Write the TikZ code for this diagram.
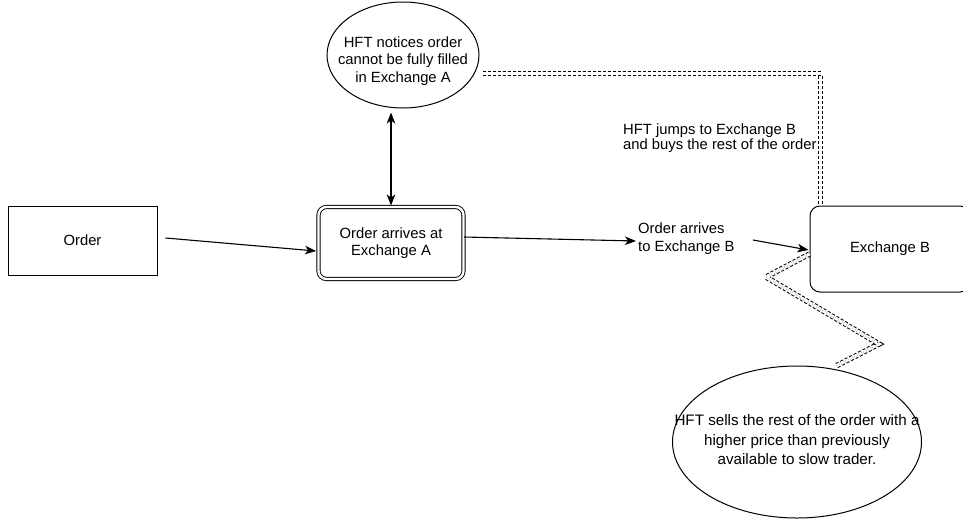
\documentclass[tikz,border=0pt]{standalone}
\usepackage{fontspec}
\setmainfont{Liberation Sans}
\usetikzlibrary{shapes.geometric,arrows.meta,calc}

\tikzset{
  every node/.style={font=\fontsize{14.8}{17.5}\selectfont},
  plainbox/.style={draw, line width=1pt, minimum width=149pt, minimum height=69pt, inner sep=0pt},
  dblbox/.style={draw, double, double distance=2.4pt, line width=0.9pt, rounded corners=8pt,
    minimum width=145pt, minimum height=72pt, inner sep=0pt, align=center},
  roundbox/.style={draw, line width=1pt, rounded corners=10pt, minimum width=160pt,
    minimum height=86pt, inner sep=0pt},
  bubble/.style={draw, ellipse, line width=1pt, inner sep=0pt},
  lbl/.style={inner sep=0pt, align=left},
  arr/.style={line width=1.1pt, -{Stealth[length=11pt,width=8.5pt,inset=3pt]}},
  biarr/.style={line width=1.1pt, {Stealth[length=11pt,width=8.5pt,inset=3pt]}-{Stealth[length=11pt,width=8.5pt,inset=3pt]}},
  dbldash/.style={draw, line width=1pt, double, double distance=3.4pt, dash pattern=on 3pt off 2pt}
}

\begin{document}
\begin{tikzpicture}[x=1pt, y=-1pt]
  \useasboundingbox (0,0) rectangle (963,525);

  % main flow
  \node[plainbox] (order) at (82.5,240.5) {Order};
  \node[dblbox] (exA) at (391,243) {Order arrives at\\Exchange A};
  \node[roundbox] (exB) at (890,249) {Exchange B};

  % HFT steps: fixed-size ellipses, text set as a centred label
  \node[bubble, minimum width=152pt, minimum height=106pt,
    label={[align=center, inner sep=0pt, yshift=-6pt]center:HFT notices order\\cannot be fully filled\\in Exchange A}]
    (hftA) at (403,55) {};
  \node[bubble, minimum width=249pt, minimum height=152pt,
    label={[align=center, inner sep=0pt, font=\fontsize{15.2}{19.5}\selectfont, yshift=2pt]center:HFT sells the rest of the order with a\\higher price than previously\\available to slow trader.}]
    (hftB) at (797,442) {};

  % free labels
  \node[lbl, anchor=west] (arrB) at (638,238.5) {Order arrives\\to Exchange B};
  \node[lbl, anchor=west, font=\fontsize{14.8}{13}\selectfont] (jump) at (623,138.5)
    {HFT jumps to Exchange B\\and buys the rest of the order};

  % order path
  \coordinate (b1) at (753,240);
  \draw[arr] ($(order.east)+(8,-2.5)$) -- ($(exA.west)+(-2,8)$);
  \draw[arr] ($(exA.east)+(0,-6)$) -- ($(arrB.west)+(-2,2.5)$);
  \draw[arr] (b1) -- ($(exB.west)+(-1,1)$);
  \draw[biarr] ($(exA.north)+(0,-1)$) -- ($(exA.north |- hftA.south)+(0,4)$);

  % HFT moves
  \coordinate (k1) at (766,277);
  \coordinate (k2) at (879,344);
  \path[dbldash] ($(hftA.east)+(3,18.5)$) -| ($(exB.north west)+(11,0)$);
  \path[dbldash] ($(exB.west)+(0,5)$) -- (k1) -- (k2) -- ($(hftB.north)+(38,1)$);
\end{tikzpicture}
\end{document}
